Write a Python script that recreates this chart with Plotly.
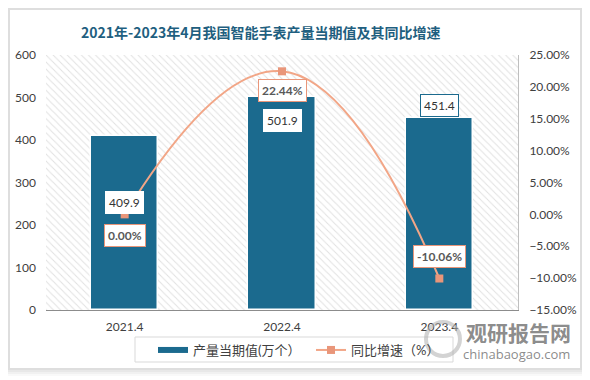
import plotly.graph_objects as go

categories = ["2021.4", "2022.4", "2023.4"]
production = [409.9, 501.9, 451.4]
growth = [0.00, 22.44, -10.06]
bar_label_shift = [-67, -24, 13]
line_label_shift = [-21, -19, 22]

title = "2021年-2023年4月我国智能手表产量当期值及其同比增速"
bar_name = "产量当期值(万个）"
line_name = "同比增速（%）"

BAR = "#1B6A8E"
LINE = "#F2A687"
MARK = "#E9967A"
FONT = "Lato, 'Noto Sans CJK SC', sans-serif"

O = 8  # page body margin offset
W, H = 590 - O, 380 - O
L, T = 46 - O, 55 - O
R, B = W - (518 - O), H - (310 - O)
pw, ph = W - L - R, H - T - B

def px(x):  # window pixel -> paper
    return (x - O - L) / pw

def py(y):
    return (H - B - (y - O)) / ph

fig = go.Figure()

# hatched plot background
fig.add_trace(go.Bar(
    x=[categories[1]], y=[600], width=[3], yaxis="y",
    marker=dict(color="white", line=dict(width=0),
                pattern=dict(shape="\\", fgcolor="#c4c4c4", bgcolor="white", size=5, solidity=0.2)),
    showlegend=False, hoverinfo="skip"))

fig.add_trace(go.Bar(
    x=categories, y=production, name=bar_name, width=0.43, showlegend=False,
    marker=dict(color=BAR, line=dict(color="white", width=1.5))))

# legend entry for bars (wide swatch)
fig.add_trace(go.Scatter(x=[None], y=[None], mode="lines", name=bar_name,
                         line=dict(color=BAR, width=6)))

fig.add_trace(go.Scatter(
    x=categories, y=growth, name=line_name, yaxis="y2",
    mode="lines+markers", line=dict(color=LINE, width=2, shape="spline", smoothing=1.3),
    marker=dict(symbol="square", size=8, color=MARK)))

ann = []
for i, (v, s) in enumerate(zip(production, bar_label_shift)):
    ann.append(dict(x=i, y=v, xref="x", yref="y", text=f"{v:.1f}", showarrow=False,
                    yshift=s, bgcolor="white", bordercolor=BAR if s > 0 else "white",
                    borderwidth=1, borderpad=3,
                    font=dict(family=FONT, size=12, color="#333333")))
for i, (v, s) in enumerate(zip(growth, line_label_shift)):
    ann.append(dict(x=i, y=v, xref="x", yref="y2", text=f"<b>{v:.2f}%</b>", showarrow=False,
                    yshift=s, bgcolor="white", bordercolor=MARK, borderwidth=1, borderpad=3,
                    font=dict(family=FONT, size=12, color="#595959")))

ann.append(dict(x=px(261), y=py(32), xref="paper", yref="paper", text="<b>" + title + "</b>",
                xanchor="center", yanchor="middle", showarrow=False,
                font=dict(family="'Noto Sans CJK SC', serif", size=14, color="#1F5F80")))
ann.append(dict(x=px(518), y=py(332), xref="paper", yref="paper", text="<b>观研报告网</b>",
                xanchor="center", yanchor="middle", showarrow=False,
                font=dict(family="'Noto Sans CJK SC'", size=21, color="rgba(125,125,125,0.9)")))
ann.append(dict(x=px(516), y=py(354), xref="paper", yref="paper", text="chinabaogao.com",
                xanchor="center", yanchor="middle", showarrow=False,
                font=dict(family="'Open Sans'", size=13, color="rgba(125,125,125,0.9)")))

shapes = []
for i, a in enumerate([0.025, 0.03, 0.035, 0.045, 0.06]):
    d = 8 - i * 2
    shapes.append(dict(type="rect", xref="paper", yref="paper", layer="below",
                       x0=px(10 - d), x1=px(580 + d), y0=py(368 + d), y1=py(10 - d),
                       fillcolor=f"rgba(0,0,0,{a})", line=dict(width=0)))
shapes.append(dict(type="rect", xref="paper", yref="paper", layer="below",
                   x0=px(10), x1=px(580), y0=py(368), y1=py(10),
                   fillcolor="white", line=dict(width=0)))
# legend frame
shapes.append(dict(type="rect", xref="paper", yref="paper", layer="below",
                   x0=px(135), x1=px(453), y0=py(362), y1=py(337),
                   fillcolor="white", line=dict(color="#d9d9d9", width=1)))
# watermark logo ring
shapes.append(dict(type="circle", xref="paper", yref="paper", layer="above",
                   x0=px(426), x1=px(460), y0=py(356), y1=py(322),
                   fillcolor="rgba(0,0,0,0)", line=dict(color="rgba(175,175,175,0.55)", width=4)))

fig.update_layout(
    width=W, height=H, margin=dict(l=L, r=R, t=T, b=B, autoexpand=False),
    paper_bgcolor="white", plot_bgcolor="rgba(0,0,0,0)",
    barmode="overlay", bargap=0,
    font=dict(family=FONT, size=12, color="#404040"),
    xaxis=dict(type="category", categoryorder="array", categoryarray=categories,
               range=[-0.5, 2.5], showline=True, linecolor="#8c8c8c", ticklabelstandoff=6,
               ticks="", tickfont=dict(size=12, color="#404040"), showgrid=False),
    yaxis=dict(range=[0, 600], dtick=100, showgrid=False, showline=False, ticks="",
               ticklabelstandoff=9, tickfont=dict(size=12, color="#404040")),
    yaxis2=dict(range=[-15, 25], dtick=5, overlaying="y", side="right", showgrid=False,
                showline=True, linecolor="#bfbfbf", ticks="", ticksuffix="%", tickformat=".2f",
                ticklabelstandoff=8, tickfont=dict(size=12, color="#404040"), zeroline=False),
    legend=dict(orientation="h", x=px(153), y=py(335), xanchor="left", yanchor="top",
                borderwidth=0, bgcolor="rgba(0,0,0,0)",
                font=dict(size=13, color="#404040"), entrywidth=113, itemwidth=30),
    annotations=ann, shapes=shapes, showlegend=True,
)

fig.write_html("out.html")
